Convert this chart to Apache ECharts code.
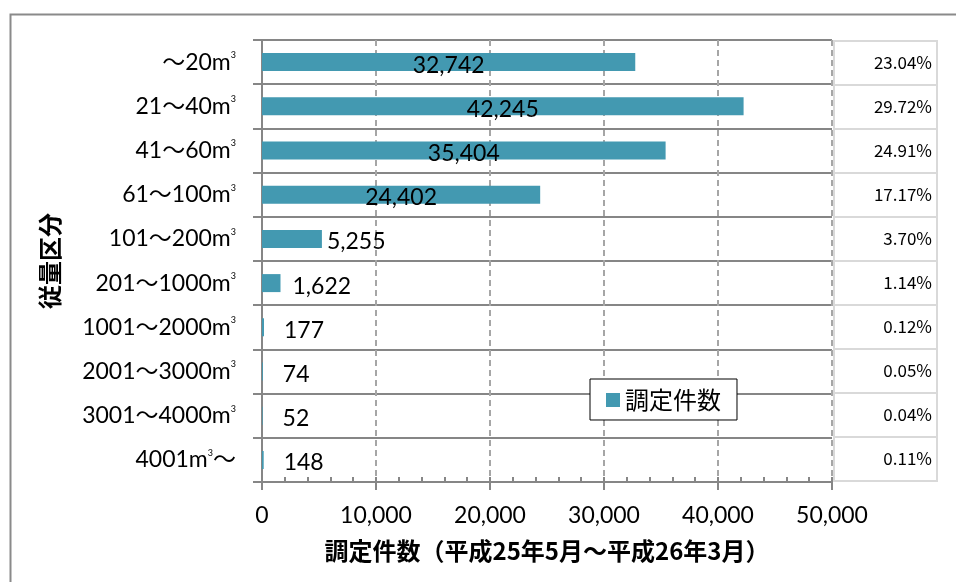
<!DOCTYPE html>
<html>
<head>
<meta charset="utf-8">
<script src="https://cdn.jsdelivr.net/npm/echarts@6/dist/echarts.min.js"></script>
<style>
html,body{margin:0;padding:0;background:#fff;}
#chart{width:956px;height:582px;}
</style>
</head>
<body>
<div id="chart"></div>
<script>
// 従量区分ごとの調定件数
const categories = ['～20m³', '21～40m³', '41～60m³', '61～100m³', '101～200m³',
  '201～1000m³', '1001～2000m³', '2001～3000m³', '3001～4000m³', '4001m³～'];
const counts = [32742, 42245, 35404, 24402, 5255, 1622, 177, 74, 52, 148];
const shares = ['23.04%', '29.72%', '24.91%', '17.17%', '3.70%',
  '1.14%', '0.12%', '0.05%', '0.04%', '0.11%'];
const xTicks = [0, 10000, 20000, 30000, 40000, 50000];
const seriesName = '調定件数';
const xAxisTitle = '調定件数（平成25年5月～平成26年3月）';
const yAxisTitle = '従量区分';

const LATIN = 'Lato, "Noto Sans CJK JP", sans-serif';
const CJK = '"Noto Sans CJK JP", sans-serif';

// label placement: long bars carry the number inside, short ones to the right
function labelFor(v) {
  if (v >= 20000) return { position: 'inside', offset: [0, 3] };
  const gap = v > 5000 ? 5 : (v > 1000 ? 12 : 20);
  return { position: 'right', distance: gap, offset: [0, 3] };
}

const barData = counts.map(v => ({ value: v, label: labelFor(v) }));

function catLabel(s) {
  const i = s.indexOf('m³');
  return '{t|' + s.slice(0, i + 1) + '}{s|3}' + (s.length > i + 2 ? '{t|' + s.slice(i + 2) + '}' : '');
}

const chart = echarts.init(document.getElementById('chart'));
chart.setOption({
  animation: false,
  backgroundColor: '#fff',
  graphic: [{
    type: 'rect', left: 8, top: 12, z: 0,
    shape: { width: 1000, height: 640 },
    style: { fill: 'none', stroke: '#8a8a8a', lineWidth: 2 }
  }],
  legend: {
    data: [seriesName],
    left: 590, top: 379,
    padding: [9, 16, 8, 16],
    backgroundColor: '#fff',
    borderColor: '#000', borderWidth: 1,
    icon: 'rect', itemWidth: 14, itemHeight: 14,
    textStyle: { fontFamily: CJK, fontSize: 24, color: '#000' }
  },
  grid: [
    { left: 262, right: 124, top: 40, bottom: 100 },
    { left: 834, right: 19, top: 41, bottom: 101, show: true, borderColor: '#d9d9d9', borderWidth: 2 }
  ],
  xAxis: [{
    gridIndex: 0, type: 'value', min: 0, max: 50000, interval: 10000,
    name: xAxisTitle, nameLocation: 'middle', nameGap: 57,
    nameTextStyle: { fontFamily: CJK, fontSize: 24, fontWeight: 'bold', color: '#000' },
    axisLine: { show: true, lineStyle: { color: '#868686', width: 2 } },
    axisTick: { show: true, length: 8, lineStyle: { color: '#868686', width: 2 } },
    axisLabel: { margin: 22, fontFamily: LATIN, fontSize: 23, color: '#000',
      formatter: v => v.toLocaleString('en-US') },
    splitLine: { show: true, lineStyle: { color: '#a6a6a6', width: 2, type: [6, 4] } }
  }, {
    // minor ticks on the inside of the value axis
    gridIndex: 0, type: 'value', min: 0, max: 50000, interval: 2000, position: 'bottom',
    axisLine: { show: false },
    axisTick: { show: true, inside: true, length: 5, lineStyle: { color: '#868686', width: 2 } },
    axisLabel: { show: false }, splitLine: { show: false }
  }, {
    gridIndex: 1, type: 'value', min: 0, max: 1, show: false
  }],
  yAxis: [{
    gridIndex: 0, type: 'category', data: categories, inverse: true,
    name: yAxisTitle, nameLocation: 'middle', nameRotate: 90, nameGap: 200,
    nameTextStyle: { fontFamily: CJK, fontSize: 24, fontWeight: 'bold', color: '#000' },
    axisLine: { show: true, lineStyle: { color: '#868686', width: 2 } },
    axisTick: { show: true, length: 9, lineStyle: { color: '#868686', width: 2 } },
    axisLabel: {
      margin: 26, formatter: catLabel,
      rich: {
        t: { fontFamily: LATIN, fontSize: 23, color: '#000' },
        s: { fontFamily: LATIN, fontSize: 9, color: '#000', verticalAlign: 'top', padding: [0, 0, 12, 0] }
      }
    },
    splitLine: { show: true, lineStyle: { color: '#868686', width: 2 } }
  }, {
    gridIndex: 1, type: 'category', data: shares, inverse: true, position: 'right',
    axisLine: { show: false }, axisTick: { show: false },
    axisLabel: { inside: true, margin: 5, padding: [15, 0, 0, 0],
      fontFamily: CJK, fontSize: 17, color: '#000' },
    splitLine: { show: true, lineStyle: { color: '#d9d9d9', width: 2 } }
  }],
  series: [{
    name: seriesName, type: 'bar', xAxisIndex: 0, yAxisIndex: 0,
    data: barData, barWidth: 18,
    itemStyle: { color: '#4399b1' },
    label: { show: true, fontFamily: LATIN, fontSize: 23, color: '#000',
      formatter: p => p.value.toLocaleString('en-US') }
  }]
});
</script>
</body>
</html>
